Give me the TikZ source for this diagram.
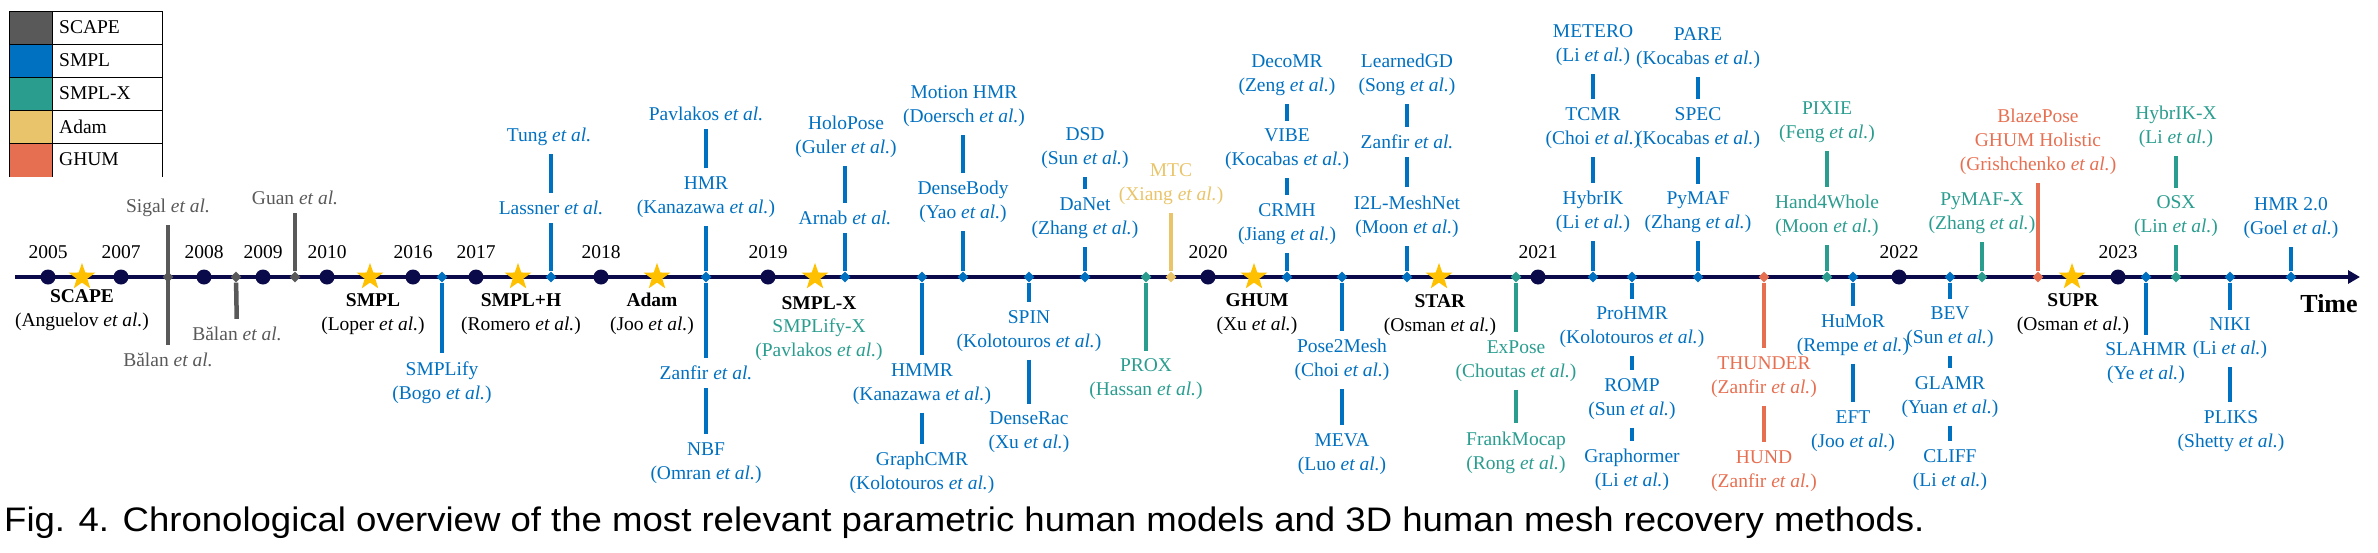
\documentclass[tikz,border=0pt]{standalone}
\usepackage{fontspec}
\setmainfont{Liberation Serif}
\newfontfamily\capfont[FakeStretch=1.075]{Liberation Sans}
\usetikzlibrary{shapes, arrows.meta, positioning}

\definecolor{scapegray}{RGB}{89, 89, 89}
\definecolor{smplblue}{RGB}{0, 112, 192}
\definecolor{smplxteal}{RGB}{42, 157, 143}
\definecolor{adamyellow}{RGB}{233, 196, 106}
\definecolor{ghumred}{RGB}{231, 111, 81}
\definecolor{axisnavy}{RGB}{10, 10, 75}
\definecolor{stargold}{RGB}{255, 192, 0}

\newcommand{\etal}{\textit{et al.}}
\newcommand{\lblsize}{\fontsize{19.5}{24}\selectfont}

\tikzset{
  lbl/.style={align=center, inner xsep=2pt, inner ysep=8pt, font=\lblsize, text=#1},
  tick/.style={diamond, fill=#1, inner sep=0pt, minimum size=11pt},
  conn/.style={draw=#1, line width=4.5pt},
  yeardot/.style={circle, fill=axisnavy, inner sep=0pt, minimum size=15pt},
  modelstar/.style={star, star points=5, star point ratio=2.5, fill=stargold, inner sep=0pt, minimum size=28pt},
  model/.style={align=center, inner sep=1pt, font=\lblsize},
}

\begin{document}
\begin{tikzpicture}[x=1pt, y=-1pt]
  \useasboundingbox (0,0) rectangle (2378,552);

  % legend
  \fill[scapegray] (9,11) rectangle (52,44);
  \fill[smplblue] (9,44) rectangle (52,77);
  \fill[smplxteal] (9,77) rectangle (52,110);
  \fill[adamyellow] (9,110) rectangle (52,143);
  \fill[ghumred] (9,143) rectangle (52,177);
  \draw[line width=1pt] (9,177) -- (9,11) -- (162,11) -- (162,177)
    (52,11) -- (52,177) (9,44) -- (162,44) (9,77) -- (162,77)
    (9,110) -- (162,110) (9,143) -- (162,143);
  \node[model, anchor=west] (leg-scape) at (58,27.5) {SCAPE};
  \node[model, anchor=west] (leg-smpl) at (58,60.5) {SMPL};
  \node[model, anchor=west] (leg-smplx) at (58,93.5) {SMPL-X};
  \node[model, anchor=west] (leg-adam) at (58,126.5) {Adam};
  \node[model, anchor=west] (leg-ghum) at (58,159.5) {GHUM};

  % time axis
  \coordinate (axstart) at (15,277);
  \coordinate (axend) at (2360,277);
  \draw[axisnavy, line width=4pt, -{Triangle[length=12pt, width=13pt]}] (axstart) -- (axend);
  \node[font=\fontsize{26}{30}\selectfont\bfseries] (time) at (2329,304) {Time};

  % SCAPE based
  \node[lbl=scapegray] (sigal) at (168,208) {Sigal \etal};
  \node[lbl=scapegray] (balanA) at (168,360) {Bălan \etal};
  \node[lbl=scapegray] (balanB) at (237,334) {Bălan \etal};
  \node[lbl=scapegray] (guan) at (295,198) {Guan \etal};
  \node[tick=scapegray] (d-balanB) at (236,277) {};
  \node[tick=scapegray] (d-guan) at (295,277) {};
  \draw[conn=scapegray] (sigal) -- (balanA);
  \draw[conn=scapegray] (d-balanB) -- (balanB);
  \draw[conn=scapegray] (d-guan) -- (guan);
  \node[tick=scapegray] (d-sigal) at (168,277) {};

  % SMPL based
  \node[lbl=smplblue] (smplify) at (442,382.5) {SMPLify\\(Bogo \etal)};
  \node[lbl=smplblue] (lassner) at (551,208) {Lassner \etal};
  \node[lbl=smplblue] (tung) at (549,137) {Tung \etal};
  \node[lbl=smplblue] (hmr) at (706,197) {HMR\\(Kanazawa \etal)};
  \node[lbl=smplblue] (pavlakos) at (706,114) {Pavlakos \etal};
  \node[lbl=smplblue] (zanfirA) at (706,373) {Zanfir \etal};
  \node[lbl=smplblue] (nbf) at (706,463) {NBF\\(Omran \etal)};
  \node[lbl=smplblue] (arnab) at (845,218) {Arnab \etal};
  \node[lbl=smplblue] (holopose) at (846,136.5) {HoloPose\\(Guler \etal)};
  \node[lbl=smplblue] (hmmr) at (922,384) {HMMR\\(Kanazawa \etal)};
  \node[lbl=smplblue] (graphcmr) at (922,473) {GraphCMR\\(Kolotouros \etal)};
  \node[lbl=smplblue] (densebody) at (963,202) {DenseBody\\(Yao \etal)};
  \node[lbl=smplblue] (motionhmr) at (964,106) {Motion HMR\\(Doersch \etal)};
  \node[lbl=smplblue] (spin) at (1029,331) {SPIN\\(Kolotouros \etal)};
  \node[lbl=smplblue] (denserac) at (1029,432.5) {DenseRac\\(Xu \etal)};
  \node[lbl=smplblue] (danet) at (1085,218) {DaNet\\(Zhang \etal)};
  \node[lbl=smplblue] (dsd) at (1085,148) {DSD\\(Sun \etal)};
  \node[lbl=smplblue] (crmh) at (1287,224) {CRMH\\(Jiang \etal)};
  \node[lbl=smplblue] (vibe) at (1287,149.5) {VIBE\\(Kocabas \etal)};
  \node[lbl=smplblue] (decomr) at (1287,75) {DecoMR\\(Zeng \etal)};
  \node[lbl=smplblue] (pose2mesh) at (1342,360) {Pose2Mesh\\(Choi \etal)};
  \node[lbl=smplblue] (meva) at (1342,454) {MEVA\\(Luo \etal)};
  \node[lbl=smplblue] (i2l) at (1407,216.5) {I2L-MeshNet\\(Moon \etal)};
  \node[lbl=smplblue] (zanfirB) at (1407,142) {Zanfir \etal};
  \node[lbl=smplblue] (learnedgd) at (1407,75) {LearnedGD\\(Song \etal)};
  \node[lbl=smplblue] (hybrik) at (1593,212) {HybrIK\\(Li \etal)};
  \node[lbl=smplblue] (tcmr) at (1593,128) {TCMR\\(Choi \etal)};
  \node[lbl=smplblue] (metero) at (1593,45) {METERO\\(Li \etal)};
  \node[lbl=smplblue] (prohmr) at (1632,327.5) {ProHMR\\(Kolotouros \etal)};
  \node[lbl=smplblue] (romp) at (1632,399) {ROMP\\(Sun \etal)};
  \node[lbl=smplblue] (graphormer) at (1632,470) {Graphormer\\(Li \etal)};
  \node[lbl=smplblue] (pymaf) at (1698,212.5) {PyMAF\\(Zhang \etal)};
  \node[lbl=smplblue] (spec) at (1698,128) {SPEC\\(Kocabas \etal)};
  \node[lbl=smplblue] (pare) at (1698,48) {PARE\\(Kocabas \etal)};
  \node[lbl=smplblue] (humor) at (1853,335) {HuMoR\\(Rempe \etal)};
  \node[lbl=smplblue] (eft) at (1853,431) {EFT\\(Joo \etal)};
  \node[lbl=smplblue] (bev) at (1950,327.5) {BEV\\(Sun \etal)};
  \node[lbl=smplblue] (glamr) at (1950,397) {GLAMR\\(Yuan \etal)};
  \node[lbl=smplblue] (cliff) at (1950,470) {CLIFF\\(Li \etal)};
  \node[lbl=smplblue] (slahmr) at (2146,363.5) {SLAHMR\\(Ye \etal)};
  \node[lbl=smplblue] (niki) at (2230,338.5) {NIKI\\(Li \etal)};
  \node[lbl=smplblue] (pliks) at (2231,431) {PLIKS\\(Shetty \etal)};
  \node[lbl=smplblue] (hmrtwo) at (2291,218) {HMR 2.0\\(Goel \etal)};

  \node[tick=smplblue] (d-smplify) at (442,277) {};
  \node[tick=smplblue] (d-lassner) at (551,277) {};
  \node[tick=smplblue] (d-hmr) at (706,277) {};
  \node[tick=smplblue] (d-arnab) at (845,277) {};
  \node[tick=smplblue] (d-hmmr) at (922,277) {};
  \node[tick=smplblue] (d-densebody) at (963,277) {};
  \node[tick=smplblue] (d-spin) at (1029,277) {};
  \node[tick=smplblue] (d-danet) at (1085,277) {};
  \node[tick=smplblue] (d-crmh) at (1287,277) {};
  \node[tick=smplblue] (d-pose2mesh) at (1342,277) {};
  \node[tick=smplblue] (d-i2l) at (1407,277) {};
  \node[tick=smplblue] (d-hybrik) at (1593,277) {};
  \node[tick=smplblue] (d-prohmr) at (1632,277) {};
  \node[tick=smplblue] (d-pymaf) at (1698,277) {};
  \node[tick=smplblue] (d-humor) at (1853,277) {};
  \node[tick=smplblue] (d-bev) at (1950,277) {};
  \node[tick=smplblue] (d-slahmr) at (2146,277) {};
  \node[tick=smplblue] (d-niki) at (2230,277) {};
  \node[tick=smplblue] (d-hmrtwo) at (2291,277) {};

  \draw[conn=smplblue] (d-smplify) -- (smplify);
  \draw[conn=smplblue] (d-lassner) -- (lassner);
  \draw[conn=smplblue] (lassner) -- (lassner |- tung.south);
  \draw[conn=smplblue] (d-hmr) -- (hmr);
  \draw[conn=smplblue] (hmr) -- (pavlakos);
  \draw[conn=smplblue] (d-hmr) -- (zanfirA);
  \draw[conn=smplblue] (zanfirA) -- (nbf);
  \draw[conn=smplblue] (d-arnab) -- (arnab);
  \draw[conn=smplblue] (arnab) -- (arnab |- holopose.south);
  \draw[conn=smplblue] (d-hmmr) -- (hmmr);
  \draw[conn=smplblue] (hmmr) -- (graphcmr);
  \draw[conn=smplblue] (d-densebody) -- (densebody);
  \draw[conn=smplblue] (densebody) -- (densebody |- motionhmr.south);
  \draw[conn=smplblue] (d-spin) -- (spin);
  \draw[conn=smplblue] (spin) -- (denserac);
  \draw[conn=smplblue] (d-danet) -- (danet);
  \draw[conn=smplblue] (danet) -- (dsd);
  \draw[conn=smplblue] (d-crmh) -- (crmh);
  \draw[conn=smplblue] (crmh) -- (vibe);
  \draw[conn=smplblue] (vibe) -- (decomr);
  \draw[conn=smplblue] (d-pose2mesh) -- (pose2mesh);
  \draw[conn=smplblue] (pose2mesh) -- (meva);
  \draw[conn=smplblue] (d-i2l) -- (i2l);
  \draw[conn=smplblue] (i2l) -- (zanfirB);
  \draw[conn=smplblue] (zanfirB) -- (learnedgd);
  \draw[conn=smplblue] (d-hybrik) -- (hybrik);
  \draw[conn=smplblue] (hybrik) -- (tcmr);
  \draw[conn=smplblue] (tcmr) -- (metero);
  \draw[conn=smplblue] (d-prohmr) -- (prohmr);
  \draw[conn=smplblue] (prohmr) -- (romp);
  \draw[conn=smplblue] (romp) -- (graphormer);
  \draw[conn=smplblue] (d-pymaf) -- (pymaf);
  \draw[conn=smplblue] (pymaf) -- (spec);
  \draw[conn=smplblue] (spec) -- (pare);
  \draw[conn=smplblue] (d-humor) -- (humor);
  \draw[conn=smplblue] (humor) -- (eft);
  \draw[conn=smplblue] (d-bev) -- (bev);
  \draw[conn=smplblue] (bev) -- (glamr);
  \draw[conn=smplblue] (glamr) -- (cliff);
  \draw[conn=smplblue] (d-slahmr) -- (slahmr);
  \draw[conn=smplblue] (d-niki) -- (niki);
  \draw[conn=smplblue] (niki) -- (niki |- pliks.north);
  \draw[conn=smplblue] (d-hmrtwo) -- (hmrtwo);

  % SMPL-X based
  \node[lbl=smplxteal] (prox) at (1146,379.5) {PROX\\(Hassan \etal)};
  \node[lbl=smplxteal] (expose) at (1516,361) {ExPose\\(Choutas \etal)};
  \node[lbl=smplxteal] (frankmocap) at (1516,452.5) {FrankMocap\\(Rong \etal)};
  \node[lbl=smplxteal] (hand4whole) at (1827,216) {Hand4Whole\\(Moon \etal)};
  \node[lbl=smplxteal] (pixie) at (1827,122) {PIXIE\\(Feng \etal)};
  \node[lbl=smplxteal] (pymafx) at (1982,213.5) {PyMAF-X\\(Zhang \etal)};
  \node[lbl=smplxteal] (osx) at (2176,216.5) {OSX\\(Lin \etal)};
  \node[lbl=smplxteal] (hybrikx) at (2176,126.5) {HybrIK-X\\(Li \etal)};
  \node[tick=smplxteal] (d-prox) at (1146,277) {};
  \node[tick=smplxteal] (d-expose) at (1516,277) {};
  \node[tick=smplxteal] (d-hand4whole) at (1827,277) {};
  \node[tick=smplxteal] (d-pymafx) at (1982,277) {};
  \node[tick=smplxteal] (d-osx) at (2176,277) {};
  \draw[conn=smplxteal] (d-prox) -- (prox);
  \draw[conn=smplxteal] (d-expose) -- (expose);
  \draw[conn=smplxteal] (expose) -- (frankmocap);
  \draw[conn=smplxteal] (d-hand4whole) -- (hand4whole);
  \draw[conn=smplxteal] (hand4whole) -- (pixie);
  \draw[conn=smplxteal] (d-pymafx) -- (pymafx);
  \draw[conn=smplxteal] (d-osx) -- (osx);
  \draw[conn=smplxteal] (osx) -- (hybrikx);

  % Adam based
  \node[lbl=adamyellow] (mtc) at (1171,184.5) {MTC\\(Xiang \etal)};
  \node[tick=adamyellow] (d-mtc) at (1171,277) {};
  \draw[conn=adamyellow] (d-mtc) -- (mtc);

  % GHUM based
  \node[lbl=ghumred] (thunder) at (1764,377) {THUNDER\\(Zanfir \etal)};
  \node[lbl=ghumred] (hund) at (1764,471) {HUND\\(Zanfir \etal)};
  \node[lbl=ghumred] (blazepose) at (2038,142) {BlazePose\\GHUM Holistic\\(Grishchenko \etal)};
  \node[tick=ghumred] (d-thunder) at (1764,277) {};
  \node[tick=ghumred] (d-blazepose) at (2038,277) {};
  \draw[conn=ghumred] (d-thunder) -- (thunder);
  \draw[conn=ghumred] (thunder) -- (hund);
  \draw[conn=ghumred] (d-blazepose) -- (blazepose);

  % years
  \foreach \yr/\px in {2005/48, 2007/121, 2008/204, 2009/263, 2010/327, 2016/413,
      2017/476, 2018/601, 2019/768, 2020/1208, 2021/1538, 2022/1899, 2023/2118} {
    \node[yeardot] (dot\yr) at (\px,277) {};
    \node[model] (year\yr) at (\px,252) {\yr};
  }

  % body models
  \node[modelstar] (s-scape) at (82,277) {};
  \node[modelstar] (s-smpl) at (370,277) {};
  \node[modelstar] (s-smplh) at (518,277) {};
  \node[modelstar] (s-adam) at (657,277) {};
  \node[modelstar] (s-smplx) at (815,277) {};
  \node[modelstar] (s-ghum) at (1254,277) {};
  \node[modelstar] (s-star) at (1439,277) {};
  \node[modelstar] (s-supr) at (2072,277) {};
  \node[model] (scape) at (82,310) {\textbf{SCAPE}\\(Anguelov \etal)};
  \node[model] (smpl) at (373,314.5) {\textbf{SMPL}\\(Loper \etal)};
  \node[model] (smplh) at (521,314.5) {\textbf{SMPL+H}\\(Romero \etal)};
  \node[model] (adam) at (652,313.5) {\textbf{Adam}\\(Joo \etal)};
  \node[model] (smplx) at (819,303) {\textbf{SMPL-X}};
  \node[model, text=smplxteal] (smplifyx) at (819,340) {SMPLify-X\\(Pavlakos \etal)};
  \node[model] (ghum) at (1257,314) {\textbf{GHUM}\\(Xu \etal)};
  \node[model] (starm) at (1440,315.5) {\textbf{STAR}\\(Osman \etal)};
  \node[model] (supr) at (2073,314.5) {\textbf{SUPR}\\(Osman \etal)};

  % caption
  \node[anchor=base west, inner sep=0pt, font=\capfont\fontsize{34}{40}\selectfont] (caption) at (4,531)
    {Fig. 4. Chronological overview of the most relevant parametric human models and 3D human mesh recovery methods.};
\end{tikzpicture}
\end{document}
